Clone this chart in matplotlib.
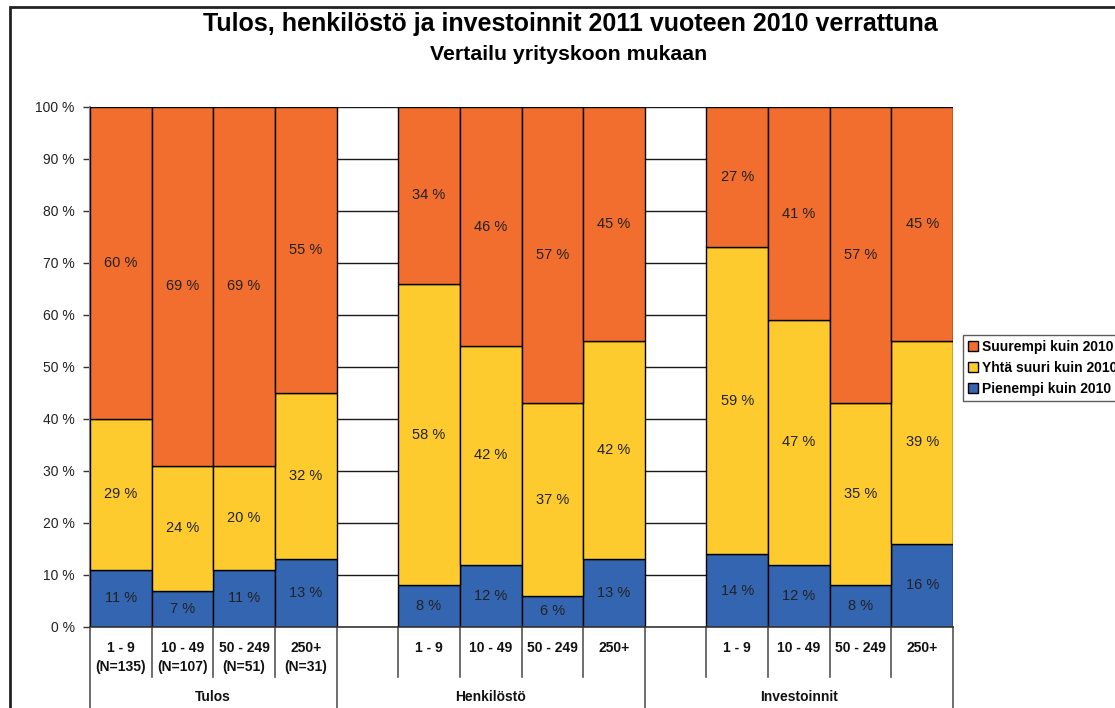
import matplotlib
matplotlib.use("Agg")
import matplotlib.pyplot as plt
from matplotlib.patches import Rectangle
import numpy as np

plt.rcParams['font.family'] = ['Liberation Sans', 'DejaVu Sans']

title = "Tulos, henkilöstö ja investoinnit 2011 vuoteen 2010 verrattuna"
subtitle = "Vertailu yrityskoon mukaan"

groups = ["Tulos", "Henkilöstö", "Investoinnit"]
cats_tulos = ["1 - 9\n(N=135)", "10 - 49\n(N=107)", "50 - 249\n(N=51)", "250+\n(N=31)"]
cats_other = ["1 - 9", "10 - 49", "50 - 249", "250+"]

series_names = ["Suurempi kuin 2010", "Yhtä suuri kuin 2010", "Pienempi kuin 2010"]

pienempi = {"Tulos": [11, 7, 11, 13], "Henkilöstö": [8, 12, 6, 13], "Investoinnit": [14, 12, 8, 16]}
yhta = {"Tulos": [29, 24, 20, 32], "Henkilöstö": [58, 42, 37, 42], "Investoinnit": [59, 47, 35, 39]}
suurempi = {"Tulos": [60, 69, 69, 55], "Henkilöstö": [34, 46, 57, 45], "Investoinnit": [27, 41, 57, 45]}

yticks = list(range(0, 101, 10))

c_orange = "#F26E2E"
c_yellow = "#FECB2F"
c_blue = "#3465B1"

fig = plt.figure(figsize=(11.15, 7.08), dpi=100)
W, H = 1115, 708
ax = fig.add_axes([90 / W, 1 - 627 / H, (953 - 90) / W, (627 - 107) / H])

# build slot layout: group1 4 bars, gap, group2 4 bars, gap, group3 4 bars
positions = []
labels = []
blue_v, yel_v, ora_v = [], [], []
group_spans = []
slot = 0
for gi, g in enumerate(groups):
    start = slot - 0.5
    if gi > 0:
        slot += 1  # empty slot
    cl = cats_tulos if g == "Tulos" else cats_other
    for k in range(4):
        positions.append(slot)
        labels.append(cl[k])
        blue_v.append(pienempi[g][k])
        yel_v.append(yhta[g][k])
        ora_v.append(suurempi[g][k])
        slot += 1
    group_spans.append((start, slot - 0.5))

positions = np.array(positions, dtype=float)
blue_v = np.array(blue_v, dtype=float)
yel_v = np.array(yel_v, dtype=float)
ora_v = np.array(ora_v, dtype=float)

kw = dict(width=1.0, edgecolor="black", linewidth=1.0, zorder=3)
b1 = ax.bar(positions, blue_v, color=c_blue, label=series_names[2], **kw)
b2 = ax.bar(positions, yel_v, bottom=blue_v, color=c_yellow, label=series_names[1], **kw)
b3 = ax.bar(positions, ora_v, bottom=blue_v + yel_v, color=c_orange, label=series_names[0], **kw)

for x, b, y, o in zip(positions, blue_v, yel_v, ora_v):
    for val, bot in ((b, 0), (y, b), (o, b + y)):
        ax.text(x, bot + val / 2, f"{int(val)} %", ha="center", va="center",
                fontsize=10.5, color="#222222", zorder=4)

ax.set_xlim(-0.5, slot - 0.5)
ax.set_ylim(0, 100)
ax.set_yticks(yticks)
ax.set_yticklabels([f"{t} %" for t in yticks], fontsize=10, color="#222222")
ax.tick_params(axis="y", length=5, width=1, color="#333333", pad=6)
for t in yticks[1:]:
    ax.axhline(t, color="#1a1a1a", linewidth=1.0, zorder=1)

for s in ["top", "right", "bottom"]:
    ax.spines[s].set_visible(False)
ax.spines["left"].set_color("#808080")
ax.spines["left"].set_linewidth(1.5)
ax.set_xticks([])

# category axis
trans = ax.get_xaxis_transform()
px = 1.0 / (627 - 107)  # axes fraction per pixel (vertical)
ax.plot([-0.5, slot - 0.5], [0, 0], transform=trans, color="#333333", lw=1.2,
        clip_on=False, zorder=5)
long_b = []
for (a, bnd) in group_spans:
    long_b.extend([a, bnd])
long_b = sorted(set(long_b))
for x in np.arange(-0.5, slot, 1.0):
    depth = 110 if x in long_b else 50
    ax.plot([x, x], [0, -depth * px], transform=trans, color="#555555", lw=1.2,
            clip_on=False)

for x, lab in zip(positions, labels):
    ax.text(x, -14 * px, lab, transform=trans, ha="center", va="top",
            fontsize=10, fontweight="bold", color="#111111", linespacing=1.45)
for (a, bnd), g in zip(group_spans, groups):
    ax.text((a + bnd) / 2, -70 * px, g, transform=trans, ha="center", va="center",
            fontsize=10, fontweight="bold", color="#111111")

# titles
fig.text(570 / W, 1 - 24 / H, title, ha="center", va="center", fontsize=18,
         fontweight="bold", color="#000000")
fig.text(569 / W, 1 - 54 / H, subtitle, ha="center", va="center", fontsize=15.3,
         fontweight="bold", color="#000000")

# legend (partly cut off at right edge)
handles = [b3, b2, b1]
leg = fig.legend(handles, series_names, loc="upper left",
                 bbox_to_anchor=(963 / W, 1 - 335 / H),
                 prop={"weight": "bold", "size": 10},
                 frameon=True, fancybox=False, edgecolor="#333333",
                 handlelength=0.7, handleheight=0.7, handletextpad=0.3,
                 borderpad=0.35, labelspacing=0.5, borderaxespad=0)
leg.get_frame().set_linewidth(1.0)

# outer chart border
fig.patches.append(Rectangle((10 / W, -0.05), 1.2, 1 - 7 / H + 0.05,
                             transform=fig.transFigure, fill=False,
                             edgecolor="#222222", linewidth=2))

fig.savefig("out.png", dpi=100)
